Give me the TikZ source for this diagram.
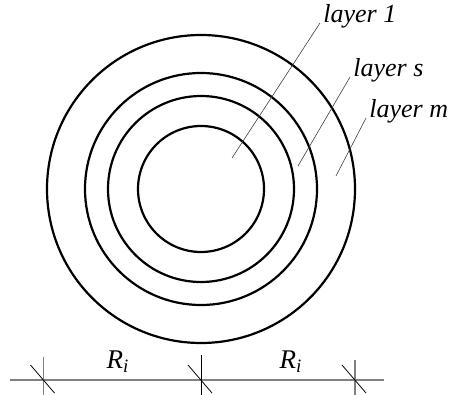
\documentclass[tikz,border=0pt]{standalone}
\usepackage{amsmath}
\usepackage{fontspec}
\setmainfont{Liberation Serif}
\usetikzlibrary{positioning}

\begin{document}
\begin{tikzpicture}[x=0.5pt,y=-0.5pt,
  ring/.style={line width=1.1pt},
  leader/.style={line width=0.3pt,black!75},
  dimline/.style={line width=0.6pt,black!50},
  lab/.style={font=\fontsize{13}{16}\selectfont\itshape,inner sep=0pt,anchor=base west}]
\useasboundingbox (0,0) rectangle (454,395);
% rings
\coordinate (c) at (201,189);
\foreach \r in {154,116,93,63}
  \draw[ring] (c) circle[radius={\r*0.5pt}];
% labels and leaders
\node[lab] (l1) at (323,23) {layer 1};
\node[lab] (ls) at (353,77) {layer s};
\node[lab] (lm) at (369,118) {layer m};
\coordinate (p1) at (232,158);
\coordinate (ps) at (298,166);
\coordinate (pm) at (336,176);
\draw[leader] (p1)--([xshift=-1.5pt]l1.base west);
\draw[leader] (ps)--([xshift=-1.5pt]ls.base west);
\draw[leader] (pm)--([xshift=-1.5pt]lm.base west);
% dimension
\coordinate (d1) at (43.5,380);
\coordinate (d2) at (201,380);
\coordinate (d3) at (355,380);
\draw[dimline] (10,380)--(384,380);
\draw[dimline] (d1)++(0,-23)--(43.5,395);
\draw[line width=0.5pt] (d2)++(0,-25)--(201,395);
\draw[dimline] (d3)++(0,-20)--(355,395);
\foreach \d in {d1,d2,d3}
  \draw[line width=0.4pt] ([shift={(-13,-15)}]\d)--([shift={(11,13)}]\d);
\node[font=\fontsize{13.5}{16}\selectfont,inner sep=0pt,anchor=base] (r1) at (118,368) {$\textit{R}_{\textit{i}}$};
\node[font=\fontsize{13.5}{16}\selectfont,inner sep=0pt,anchor=base] (r2) at (291,368) {$\textit{R}_{\textit{i}}$};
\end{tikzpicture}
\end{document}
